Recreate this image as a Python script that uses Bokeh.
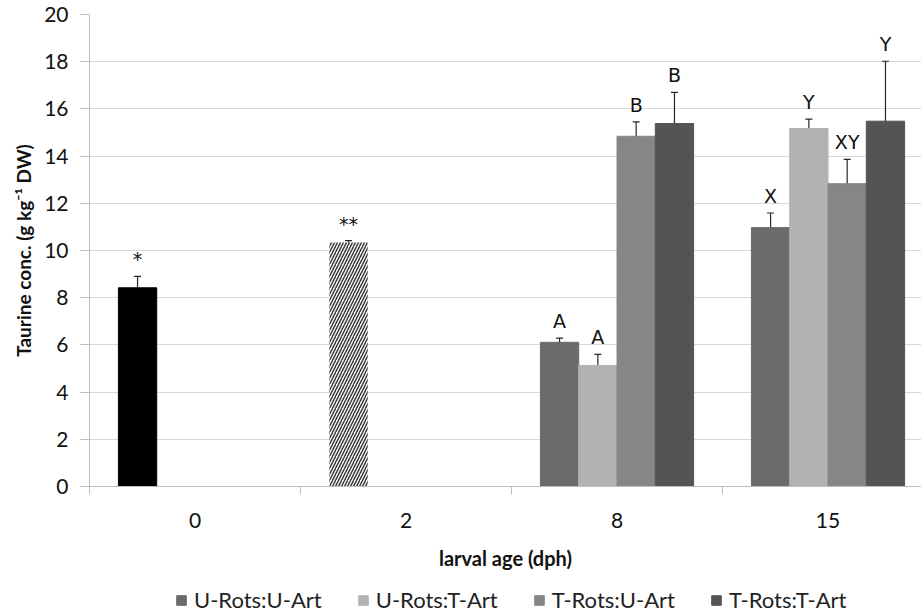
from bokeh.plotting import figure
from bokeh.layouts import column
from bokeh.models import (Range1d, FixedTicker, ColumnDataSource, Whisker, TeeHead,
                          Legend, LegendItem)
from bokeh.core.properties import value
from bokeh.embed import file_html
from bokeh.resources import INLINE

# ---- data ----
groups = ["0", "2", "8", "15"]
series_names = ["U-Rots:U-Art", "U-Rots:T-Art", "T-Rots:U-Art", "T-Rots:T-Art"]
s1_vals = [8.42, 10.34, 6.11, 10.97]
s2_vals = [0.0, 0.0, 5.13, 15.17]
s3_vals = [0.0, 0.0, 14.84, 12.83]
s4_vals = [0.0, 0.0, 15.38, 15.48]
s1_se = [0.48, 0.08, 0.18, 0.62]
s2_se = [0.0, 0.0, 0.47, 0.40]
s3_se = [0.0, 0.0, 0.61, 1.03]
s4_se = [0.0, 0.0, 1.32, 2.54]
s1_lab = ["*", "**", "A", "X"]
s2_lab = ["", "", "A", "Y"]
s3_lab = ["", "", "B", "XY"]
s4_lab = ["", "", "B", "Y"]
y_ticks = [0, 2, 4, 6, 8, 10, 12, 14, 16, 18, 20]

vals = [s1_vals, s2_vals, s3_vals, s4_vals]
ses = [s1_se, s2_se, s3_se, s4_se]
labs = [s1_lab, s2_lab, s3_lab, s4_lab]
colors = ["#6b6b6b", "#b2b2b2", "#868686", "#545454"]

FONT = "Lato"
bw = 0.1815
offsets = [-1.5 * bw, -0.5 * bw, 0.5 * bw, 1.5 * bw]

p = figure(width=921, height=577, output_backend="svg", toolbar_location=None,
           x_range=Range1d(0, 3.943), y_range=Range1d(0, 20),
           min_border_left=89, min_border_right=0, min_border_top=14,
           min_border_bottom=91)
p.outline_line_color = None
p.xgrid.grid_line_color = None
p.ygrid.grid_line_color = "#d9d9d9"
p.ygrid.grid_line_width = 1
p.ygrid.ticker = FixedTicker(ticks=y_ticks)

# y axis
p.yaxis.ticker = FixedTicker(ticks=y_ticks)
p.yaxis.axis_line_color = "#bfbfbf"
p.yaxis.major_tick_line_color = "#bfbfbf"
p.yaxis.major_tick_out = 9
p.yaxis.major_tick_in = 0
p.yaxis.minor_tick_line_color = None
p.yaxis.major_label_text_font = FONT
p.yaxis.major_label_text_font_size = "21px"
p.yaxis.major_label_text_color = "#111111"
p.yaxis.major_label_standoff = 12
p.yaxis.axis_label = "Taurine conc. (g kg\u207b\u00b9 DW)"
p.yaxis.axis_label_text_font = FONT
p.yaxis.axis_label_text_font_style = "bold"
p.yaxis.axis_label_text_font_size = "19px"
p.yaxis.axis_label_text_color = "#111111"
p.yaxis.axis_label_standoff = 6

# x axis
centers = [i + 0.5 for i in range(len(groups))]
p.xaxis.ticker = FixedTicker(ticks=centers, minor_ticks=list(range(len(groups))))
p.xaxis.major_label_overrides = {c: g for c, g in zip(centers, groups)}
p.xaxis.axis_line_color = "#bfbfbf"
p.xaxis.major_tick_line_color = None
p.xaxis.major_tick_out = 0
p.xaxis.major_tick_in = 0
p.xaxis.minor_tick_line_color = "#bfbfbf"
p.xaxis.minor_tick_out = 8
p.xaxis.minor_tick_in = 0
p.xaxis.major_label_text_font = FONT
p.xaxis.major_label_text_font_size = "21px"
p.xaxis.major_label_text_color = "#111111"
p.xaxis.major_label_standoff = 18
p.xaxis.axis_label = "larval age (dph)"
p.xaxis.axis_label_text_font = FONT
p.xaxis.axis_label_text_font_style = "bold"
p.xaxis.axis_label_text_font_size = "20px"
p.xaxis.axis_label_text_color = "#111111"
p.xaxis.axis_label_standoff = 15

# legend-only strip below the chart
lp = figure(width=921, height=36, output_backend="svg", toolbar_location=None,
            x_range=Range1d(0, 1), y_range=Range1d(100, 101),
            x_axis_location=None, y_axis_location=None,
            min_border_left=0, min_border_right=0, min_border_top=0,
            min_border_bottom=0)
lp.outline_line_color = None
lp.grid.grid_line_color = None

renderers = []
for si in range(4):
    if si == 0:
        idx = [2, 3]
    else:
        idx = [0, 1, 2, 3]
    src = ColumnDataSource(dict(
        x=[centers[i] + offsets[si] for i in idx],
        top=[vals[si][i] for i in idx],
    ))
    p.vbar(x="x", top="top", bottom=0, width=bw, source=src,
           fill_color=colors[si], line_color=colors[si], line_width=1)
    r = lp.vbar(x="x", top="top", bottom=0, width=bw, source=src,
                fill_color=colors[si], line_color=colors[si], line_width=1)
    renderers.append(r)

# special bars for day 0 (black) and day 2 (hatched)
src0 = ColumnDataSource(dict(x=[centers[0] + offsets[0]], top=[s1_vals[0]]))
p.vbar(x="x", top="top", bottom=0, width=bw, source=src0,
       fill_color="black", line_color="black")
src2 = ColumnDataSource(dict(x=[centers[1] + offsets[0]], top=[s1_vals[1]]))
p.vbar(x="x", top="top", bottom=0, width=bw, source=src2,
       fill_color="white", line_color=None, hatch_pattern="/",
       hatch_color="#3c3c3c", hatch_scale=6, hatch_weight=1.5)

# error bars and letters
ex, eu, el, tx, ty, tt = [], [], [], [], [], []
for si in range(4):
    for gi in range(4):
        v = vals[si][gi]
        if v > 0:
            ex.append(centers[gi] + offsets[si])
            eu.append(v + ses[si][gi])
            el.append(v - ses[si][gi])
        if labs[si][gi]:
            tx.append(centers[gi] + offsets[si])
            ty.append(v + ses[si][gi])
            tt.append(labs[si][gi])

esrc = ColumnDataSource(dict(base=ex, upper=eu, lower=el))
w = Whisker(base="base", upper="upper", lower="lower", source=esrc,
            line_color="#262626", line_width=1.2,
            upper_head=TeeHead(size=7, line_color="#262626", line_width=1.2),
            lower_head=TeeHead(size=7, line_color="#262626", line_width=1.2))
p.add_layout(w)

tsrc = ColumnDataSource(dict(x=tx, y=ty, t=tt))
p.text(x="x", y="y", text="t", source=tsrc, text_align="center",
       text_baseline="alphabetic", y_offset=-17,
       text_font=value("DejaVu Sans"),
       text_font_size="19px", text_color="#111111")

legend = Legend(items=[LegendItem(label=n, renderers=[r])
                       for n, r in zip(series_names, renderers)],
                orientation="horizontal", location=(86, 0),
                glyph_width=12, glyph_height=12, label_standoff=7, spacing=35,
                padding=0, margin=0, border_line_color=None,
                background_fill_alpha=0,
                label_text_font=FONT, label_text_font_size="22px",
                label_text_color="#222222")
lp.add_layout(legend)

open("out.html", "w").write(file_html(column(p, lp), INLINE))
